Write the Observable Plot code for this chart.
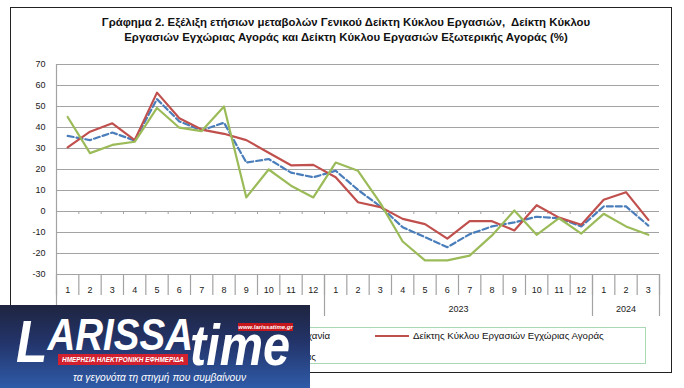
<!DOCTYPE html>
<html><head><meta charset="utf-8">
<script src="https://cdn.jsdelivr.net/npm/d3@7"></script>
<script src="https://cdn.jsdelivr.net/npm/@observablehq/plot@0.6"></script>
<style>
body{margin:0;background:#fff;}
#wrap{position:relative;width:684px;height:388px;overflow:hidden;font-family:"Liberation Sans",Arial,sans-serif;color:#1a1a1a;}
#chart svg{position:absolute;left:0;top:0;}
#frame{position:absolute;left:10px;top:7px;width:662px;height:366px;border:1.5px solid #222;box-sizing:border-box;}
.ttl{position:absolute;white-space:pre;font-weight:bold;font-size:11px;line-height:14px;color:#111;}
.lg{position:absolute;white-space:pre;font-size:10px;line-height:12px;color:#111;}
.sw{position:absolute;width:34px;height:0;}
#legend{position:absolute;left:64px;top:327px;width:582px;height:37px;border:1.5px solid #a9d9b4;box-sizing:border-box;}
#logo{position:absolute;left:0;top:305px;width:310px;height:83px;overflow:hidden;
  background:linear-gradient(180deg,#1f2540 0%,#23346a 45%,#2f5ba8 100%);}
#logo div{position:absolute;white-space:pre;color:#fff;}
.fx{transform-origin:0 0;}
</style></head><body>
<div id="wrap">
  <div id="chart"></div>
  <div id="frame"></div>
  <div class="ttl" id="t1"></div>
  <div class="ttl" id="t2"></div>
  <div id="legend"></div>
  <div class="sw" id="sw0" style="border-top:2.5px dashed #4a7ebb"></div>
  <div class="lg" id="lg0"></div>
  <div class="sw" id="sw1" style="border-top:2.5px solid #c0504d"></div>
  <div class="lg" id="lg1"></div>
  <div class="sw" id="sw2" style="border-top:2.5px solid #9bbb59"></div>
  <div class="lg" id="lg2"></div>
  <div id="logo">
    <div id="lgA" class="fx" style="font:italic bold 45px 'Liberation Sans Narrow','Liberation Sans';line-height:45px;left:16px;top:7px;"><span style="font-size:60px;line-height:45px;vertical-align:-12px">L</span>ARISSA</div>
    <div id="lgT" class="fx" style="font:italic bold 58px 'Liberation Sans Narrow','Liberation Sans';line-height:58px;left:190px;top:11px;">time</div>
    <div id="lgW" style="left:238px;top:18px;width:55px;height:8px;background:#c4161c;font:italic bold 6px 'Liberation Sans';line-height:8px;text-align:center;">www.larissatime.gr</div>
    <div id="lgB" style="left:58px;top:49px;width:130px;height:11px;background:#d3202f;"></div>
    <div id="lgBt" class="fx" style="left:62px;top:50px;font:italic bold 7px 'Liberation Sans';line-height:9px;">ΗΜΕΡΗΣΙΑ ΗΛΕΚΤΡΟΝΙΚΗ ΕΦΗΜΕΡΙΔΑ</div>
    <div id="lgG" class="fx" style="left:73px;top:66px;font:italic 10.5px 'Liberation Sans';line-height:12px;">τα γεγονότα τη στιγμή που συμβαίνουν</div>
  </div>
</div>
<script>
// ---- data ----
const titleLines = ["Γράφημα 2. Εξέλιξη ετήσιων μεταβολών Γενικού Δείκτη Κύκλου Εργασιών,  Δείκτη Κύκλου",
                    "Εργασιών Εγχώριας Αγοράς και Δείκτη Κύκλου Εργασιών Εξωτερικής Αγοράς (%)"];
const monthLabels = ["1","2","3","4","5","6","7","8","9","10","11","12",
                     "1","2","3","4","5","6","7","8","9","10","11","12",
                     "1","2","3"];
const monthYears = [2022,2022,2022,2022,2022,2022,2022,2022,2022,2022,2022,2022,
                    2023,2023,2023,2023,2023,2023,2023,2023,2023,2023,2023,2023,
                    2024,2024,2024];
const shownYears = [2023, 2024];
const yTicks = [-30,-20,-10,0,10,20,30,40,50,60,70];
const seriesNames = ["Γενικός Δείκτης Κύκλου Εργασιών στη Βιομηχανία",
                     "Δείκτης Κύκλου Εργασιών Εγχώριας Αγοράς",
                     "Δείκτης Κύκλου Εργασιών Εξωτερικής Αγοράς"];
const general  = [36.0,34.0,37.6,33.8,53.5,42.9,38.6,42.3,23.3,25.0,18.5,16.3,
                  19.4,10.3,2.4,-7.5,-12.2,-17.0,-10.8,-7.1,-5.2,-2.5,-3.2,-7.1,
                  2.4,2.4,-6.7];
const domestic = [30.5,38.0,42.0,34.0,56.6,44.4,39.0,37.0,34.0,28.0,22.0,22.2,
                  16.3,4.4,2.1,-3.5,-6.0,-12.9,-4.6,-4.6,-9.0,3.0,-2.9,-6.3,
                  5.6,9.2,-4.0];
const foreign  = [45.0,27.8,31.7,33.2,49.3,39.9,38.3,50.0,6.7,20.0,12.3,6.7,
                  23.3,19.4,4.0,-14.3,-23.3,-23.3,-21.0,-11.4,0.5,-11.1,-3.2,-10.5,
                  -1.1,-7.1,-11.1];
const seriesColors = ["#4a7ebb","#c0504d","#9bbb59"];

// ---- derived ----
const idx = d3.range(1, monthLabels.length + 1);
const bounds = d3.range(0.5, monthLabels.length + 1, 1);
const groups = d3.groups(idx, i => monthYears[i-1]);
const groupBounds = [0.5, ...groups.map(([, is]) => d3.max(is) + 0.5)];
const yearCenters = groups.filter(([y]) => shownYears.includes(y))
  .map(([y, is]) => ({y, c: (d3.min(is) + d3.max(is)) / 2}));
const yearByCenter = new Map(yearCenters.map(d => [d.c, String(d.y)]));
const grid = "#a3a3a3";

const chart = Plot.plot({
  width: 684, height: 388,
  marginLeft: 56, marginRight: 25, marginTop: 64, marginBottom: 114,
  x: {type: "linear", domain: [0.5, monthLabels.length + 0.5], axis: null},
  y: {domain: [-30, 70], axis: null},
  style: {background: "transparent", fontFamily: "'Liberation Sans', Arial, sans-serif", fontSize: "9px", color: "#1a1a1a"},
  marks: [
    Plot.ruleY(yTicks, {stroke: grid, strokeWidth: 1.2}),
    Plot.ruleX([0.5], {stroke: grid, strokeWidth: 1.2}),
    Plot.ruleX(bounds.slice(1, -1), {y1: 0, y2: 0, insetBottom: -3, stroke: grid}),
    Plot.axisY(yTicks, {anchor: "left", tickSize: 0, tickPadding: 11, tickFormat: d => String(d), label: null, fontSize: 9}),
    Plot.axisX(bounds, {anchor: "bottom", tickSize: 21, tickFormat: () => "", stroke: grid, strokeWidth: 1.2, label: null}),
    Plot.axisX(groupBounds, {anchor: "bottom", tickSize: 42, tickFormat: () => "", stroke: grid, strokeWidth: 1.2, label: null}),
    Plot.axisX(idx, {anchor: "bottom", tickSize: 0, tickPadding: 12, tickFormat: i => monthLabels[i-1], label: null, fontSize: 9}),
    Plot.axisX(yearCenters.map(d => d.c), {anchor: "bottom", tickSize: 0, tickPadding: 31, tickFormat: c => yearByCenter.get(c), label: null, fontSize: 9}),
    Plot.line(idx, {x: i => i, y: i => general[i-1], stroke: seriesColors[0], strokeWidth: 2.2, strokeDasharray: "6,3"}),
    Plot.line(idx, {x: i => i, y: i => domestic[i-1], stroke: seriesColors[1], strokeWidth: 2.2}),
    Plot.line(idx, {x: i => i, y: i => foreign[i-1], stroke: seriesColors[2], strokeWidth: 2.2})
  ]
});
document.getElementById("chart").appendChild(chart);

// ---- text layout helpers ----
function fitFont(el, target){
  const w = el.getBoundingClientRect().width;
  const fs = parseFloat(getComputedStyle(el).fontSize);
  el.style.fontSize = (fs * target / w) + "px";
}
function fitX(el, target){
  const w = el.getBoundingClientRect().width;
  el.style.transform = `scaleX(${target / w})`;
}
const t1 = document.getElementById("t1"), t2 = document.getElementById("t2");
t1.textContent = titleLines[0]; t2.textContent = titleLines[1];
fitFont(t1, 489);
t2.style.fontSize = t1.style.fontSize;
[[t1, 15], [t2, 30]].forEach(([el, top]) => {
  const w = el.getBoundingClientRect().width;
  el.style.left = (346 - w / 2) + "px"; el.style.top = top + "px";
});

// legend
const lg = [0,1,2].map(k => document.getElementById("lg" + k));
lg.forEach((el, k) => el.textContent = seriesNames[k]);
fitFont(lg[1], 191);
lg[0].style.fontSize = lg[2].style.fontSize = lg[1].style.fontSize;
const ends = [330, null, 316];
const rows = [336, 336, 357];
lg.forEach((el, k) => {
  const w = el.getBoundingClientRect().width;
  const left = k === 1 ? 413 : ends[k] - w;
  el.style.left = left + "px"; el.style.top = (rows[k] - 6) + "px";
  const sw = document.getElementById("sw" + k);
  sw.style.left = (left - 38) + "px"; sw.style.top = (rows[k] - 1) + "px";
});

// logo text fits
fitX(document.getElementById("lgA"), 177);
fitX(document.getElementById("lgT"), 100);
fitX(document.getElementById("lgBt"), 122);
fitX(document.getElementById("lgG"), 173);
</script>
</body></html>
